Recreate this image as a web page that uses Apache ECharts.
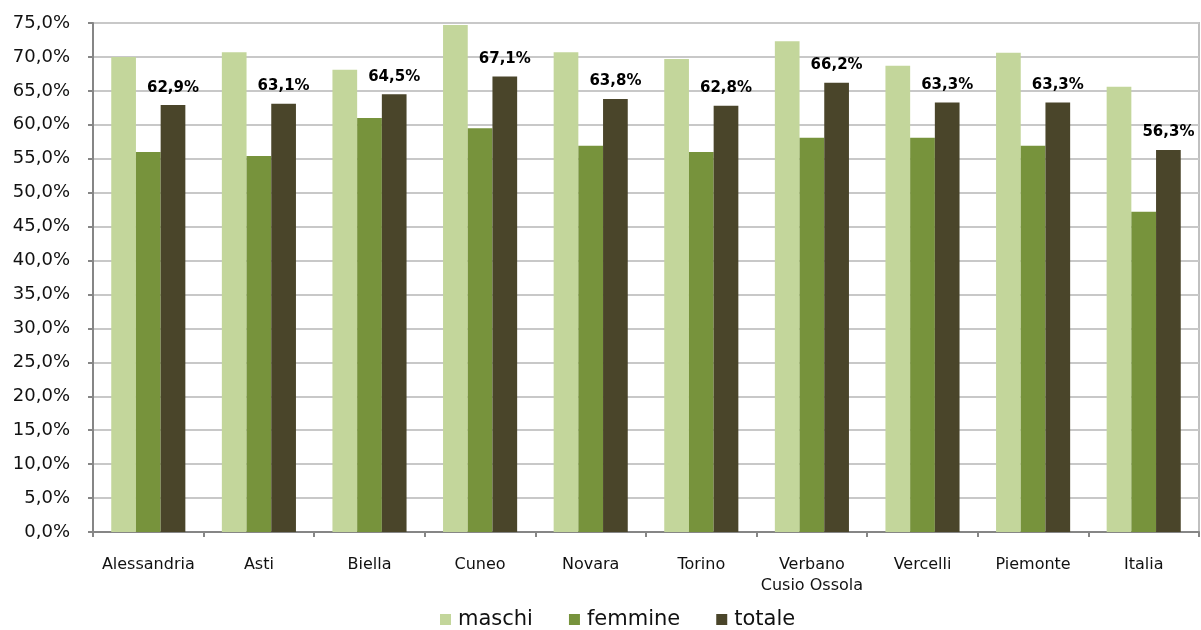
<!DOCTYPE html>
<html>
<head>
<meta charset="utf-8">
<script src="https://cdn.jsdelivr.net/npm/echarts@6/dist/echarts.min.js"></script>
<style>
html,body{margin:0;padding:0;background:#fff;}
#chart{width:1201px;height:630px;}
</style>
</head>
<body>
<div id="chart"></div>
<script>
const categories = ['Alessandria','Asti','Biella','Cuneo','Novara','Torino','Verbano\nCusio Ossola','Vercelli','Piemonte','Italia'];
const maschi  = [70.0, 70.7, 68.1, 74.7, 70.7, 69.7, 72.3, 68.7, 70.6, 65.6];
const femmine = [56.0, 55.4, 61.0, 59.5, 56.9, 56.0, 58.1, 58.1, 56.9, 47.2];
const totale  = [62.9, 63.1, 64.5, 67.1, 63.8, 62.8, 66.2, 63.3, 63.3, 56.3];
const seriesNames = ['maschi','femmine','totale'];

const fmt = v => v.toFixed(1).replace('.', ',') + '%';
const FONT = '"DejaVu Sans", Verdana, sans-serif';

const chart = echarts.init(document.getElementById('chart'));
chart.setOption({
  animation: false,
  textStyle: {fontFamily: FONT},
  grid: {left: 93, right: 2, top: 23, bottom: 98, show: true, borderColor: '#c0c0c0', borderWidth: 2, backgroundColor: 'transparent'},
  legend: {
    top: 609, left: 440, padding: 0,
    itemWidth: 11, itemHeight: 11, itemGap: 36,
    icon: 'rect',
    textStyle: {fontSize: 21, color: '#111', fontFamily: FONT, padding: [0,0,0,2]},
    data: seriesNames
  },
  xAxis: {
    type: 'category',
    data: categories,
    axisLine: {lineStyle: {color: '#868686', width: 2}},
    axisTick: {show: true, length: 5, lineStyle: {color: '#868686', width: 2}},
    axisLabel: {fontSize: 16, color: '#111', margin: 22, lineHeight: 21, interval: 0},
    splitLine: {show: false}
  },
  yAxis: {
    type: 'value',
    min: 0, max: 75, interval: 5,
    axisLine: {show: true, lineStyle: {color: '#868686', width: 2}},
    axisTick: {show: true, length: 5, lineStyle: {color: '#868686', width: 2}},
    axisLabel: {fontSize: 18, color: '#111', margin: 23, formatter: fmt},
    splitLine: {lineStyle: {color: '#c8c8c8', width: 2}}
  },
  series: [
    {name: 'maschi', type: 'bar', data: maschi, barGap: '0%', barCategoryGap: '33%', itemStyle: {color: '#C3D69B'}},
    {name: 'femmine', type: 'bar', data: femmine, barGap: '0%', barCategoryGap: '33%', itemStyle: {color: '#77933C'}},
    {name: 'totale', type: 'bar', data: totale, barGap: '0%', barCategoryGap: '33%', itemStyle: {color: '#4A452A'},
     label: {show: true, position: 'top', distance: 10, fontSize: 15, fontWeight: 'bold', color: '#000', formatter: p => fmt(p.value)}}
  ]
});
</script>
</body>
</html>
